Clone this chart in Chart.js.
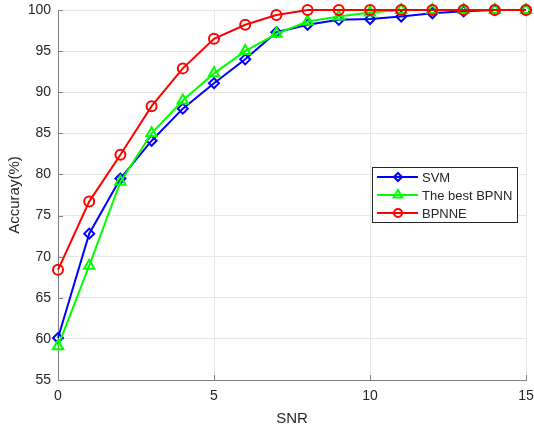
<!DOCTYPE html>
<html>
<head>
<meta charset="utf-8">
<script src="https://cdn.jsdelivr.net/npm/chart.js@4/dist/chart.umd.min.js"></script>
<style>
  html, body { margin: 0; padding: 0; background: #fff; }
  #wrap { width: 534px; height: 428px; }
</style>
</head>
<body>
<div id="wrap"><canvas id="myChart" width="534" height="428"></canvas></div>
<script>
// values
var snr = [0, 1, 2, 3, 4, 5, 6, 7, 8, 9, 10, 11, 12, 13, 14, 15];
var svm = [60.1, 72.8, 79.5, 84.1, 88.0, 91.1, 94.0, 97.3, 98.2, 98.8, 98.9, 99.2, 99.6, 99.85, 100, 100];
var bestBpnn = [59.1, 68.9, 79.1, 85.0, 89.0, 92.3, 95.0, 97.1, 98.6, 99.2, 99.7, 100, 100, 100, 100, 100];
var bpnne = [68.4, 76.7, 82.4, 88.3, 92.9, 96.5, 98.2, 99.4, 100, 100, 100, 100, 100, 100, 100, 100];
var xTicks = [0, 5, 10, 15];
var yTicks = [55, 60, 65, 70, 75, 80, 85, 90, 95, 100];

var font = "'Liberation Sans', Arial, sans-serif";
var textColor = '#262626';

function pts(ys) {
    return snr.map(function (x, i) { return { x: x, y: ys[i] }; });
}

// small MATLAB style ticks pointing into the plot
var innerTicks = {
    id: 'innerTicks',
    afterDraw: function (chart) {
        var c = chart.ctx, a = chart.chartArea;
        var xs = chart.scales.x, ys = chart.scales.y;
        c.save();
        c.strokeStyle = '#808080';
        c.lineWidth = 1;
        c.beginPath();
        xTicks.forEach(function (t) {
            var px = Math.round(xs.getPixelForValue(t)) + 0.5;
            c.moveTo(px, a.bottom);
            c.lineTo(px, a.bottom - 5);
        });
        yTicks.forEach(function (t) {
            var py = Math.round(ys.getPixelForValue(t)) + 0.5;
            c.moveTo(a.left, py);
            c.lineTo(a.left + 5, py);
        });
        c.stroke();
        c.restore();
    }
};

// legend box drawn inside the plot
var boxLegend = {
    id: 'boxLegend',
    afterDraw: function (chart) {
        var c = chart.ctx;
        var x0 = 372, y0 = 167, w = 145, h = 55;
        c.save();
        c.fillStyle = '#fff';
        c.fillRect(x0, y0, w, h);
        c.strokeStyle = '#262626';
        c.lineWidth = 1;
        c.strokeRect(x0 + 0.5, y0 + 0.5, w, h);
        var items = chart.data.datasets;
        items.forEach(function (ds, i) {
            var y = y0 + 10 + i * 18;
            c.strokeStyle = ds.borderColor;
            c.lineWidth = 2;
            c.beginPath();
            c.moveTo(x0 + 5, y);
            c.lineTo(x0 + 46, y);
            c.stroke();
            c.fillStyle = 'rgba(0,0,0,0)';
            Chart.helpers.drawPoint(c, {
                pointStyle: ds.pointStyle,
                radius: ds.pointRadius - 1,
                borderWidth: 2
            }, x0 + 26, y);
            c.fillStyle = textColor;
            c.font = '13px ' + font;
            c.textBaseline = 'middle';
            c.textAlign = 'left';
            c.fillText(ds.label, x0 + 50, y + 1);
        });
        c.restore();
    }
};

var ctx = document.getElementById('myChart').getContext('2d');
var chart = new Chart(ctx, {
    type: 'line',
    data: {
        datasets: [{
            label: 'SVM',
            data: pts(svm),
            borderColor: '#0000ff',
            backgroundColor: 'rgba(0,0,0,0)',
            pointStyle: 'rectRot',
            pointRadius: 5,
            borderWidth: 2,
            pointBorderWidth: 2,
            order: 3
        }, {
            label: 'The best BPNN',
            data: pts(bestBpnn),
            borderColor: '#00ff00',
            backgroundColor: 'rgba(0,0,0,0)',
            pointStyle: 'triangle',
            pointRadius: 6,
            borderWidth: 2,
            pointBorderWidth: 2,
            order: 2
        }, {
            label: 'BPNNE',
            data: pts(bpnne),
            borderColor: '#ff0000',
            backgroundColor: 'rgba(0,0,0,0)',
            pointStyle: 'circle',
            pointRadius: 5,
            borderWidth: 2,
            pointBorderWidth: 2,
            order: 1
        }]
    },
    options: {
        responsive: false,
        animation: false,
        clip: false,
        layout: { padding: { top: 10, right: 6, left: 0, bottom: 0 } },
        plugins: {
            legend: { display: false },
            tooltip: { enabled: false }
        },
        scales: {
            x: {
                type: 'linear',
                min: 0,
                max: 15,
                afterBuildTicks: function (s) { s.ticks = xTicks.map(function (v) { return { value: v }; }); },
                afterFit: function (s) { s.height = 48; s.paddingLeft = 0; s.paddingRight = 0; },
                ticks: { color: textColor, font: { family: font, size: 14 }, padding: 8, maxRotation: 0 },
                grid: { color: '#e6e6e6', drawTicks: false },
                border: { color: '#808080', width: 1 },
                title: { display: true, text: 'SNR', color: textColor, font: { family: font, size: 15 }, padding: { top: 2, bottom: 0 } }
            },
            y: {
                min: 55,
                max: 100,
                afterBuildTicks: function (s) { s.ticks = yTicks.map(function (v) { return { value: v }; }); },
                afterFit: function (s) { s.width = 58; s.paddingTop = 0; s.paddingBottom = 0; },
                ticks: { color: textColor, font: { family: font, size: 14 }, padding: 7 },
                grid: { color: '#e6e6e6', drawTicks: false },
                border: { color: '#808080', width: 1 },
                title: { display: true, text: 'Accuray(%)', color: textColor, font: { family: font, size: 15 }, padding: { top: 6, bottom: 0 } }
            }
        }
    },
    plugins: [innerTicks, boxLegend]
});
</script>
</body>
</html>
